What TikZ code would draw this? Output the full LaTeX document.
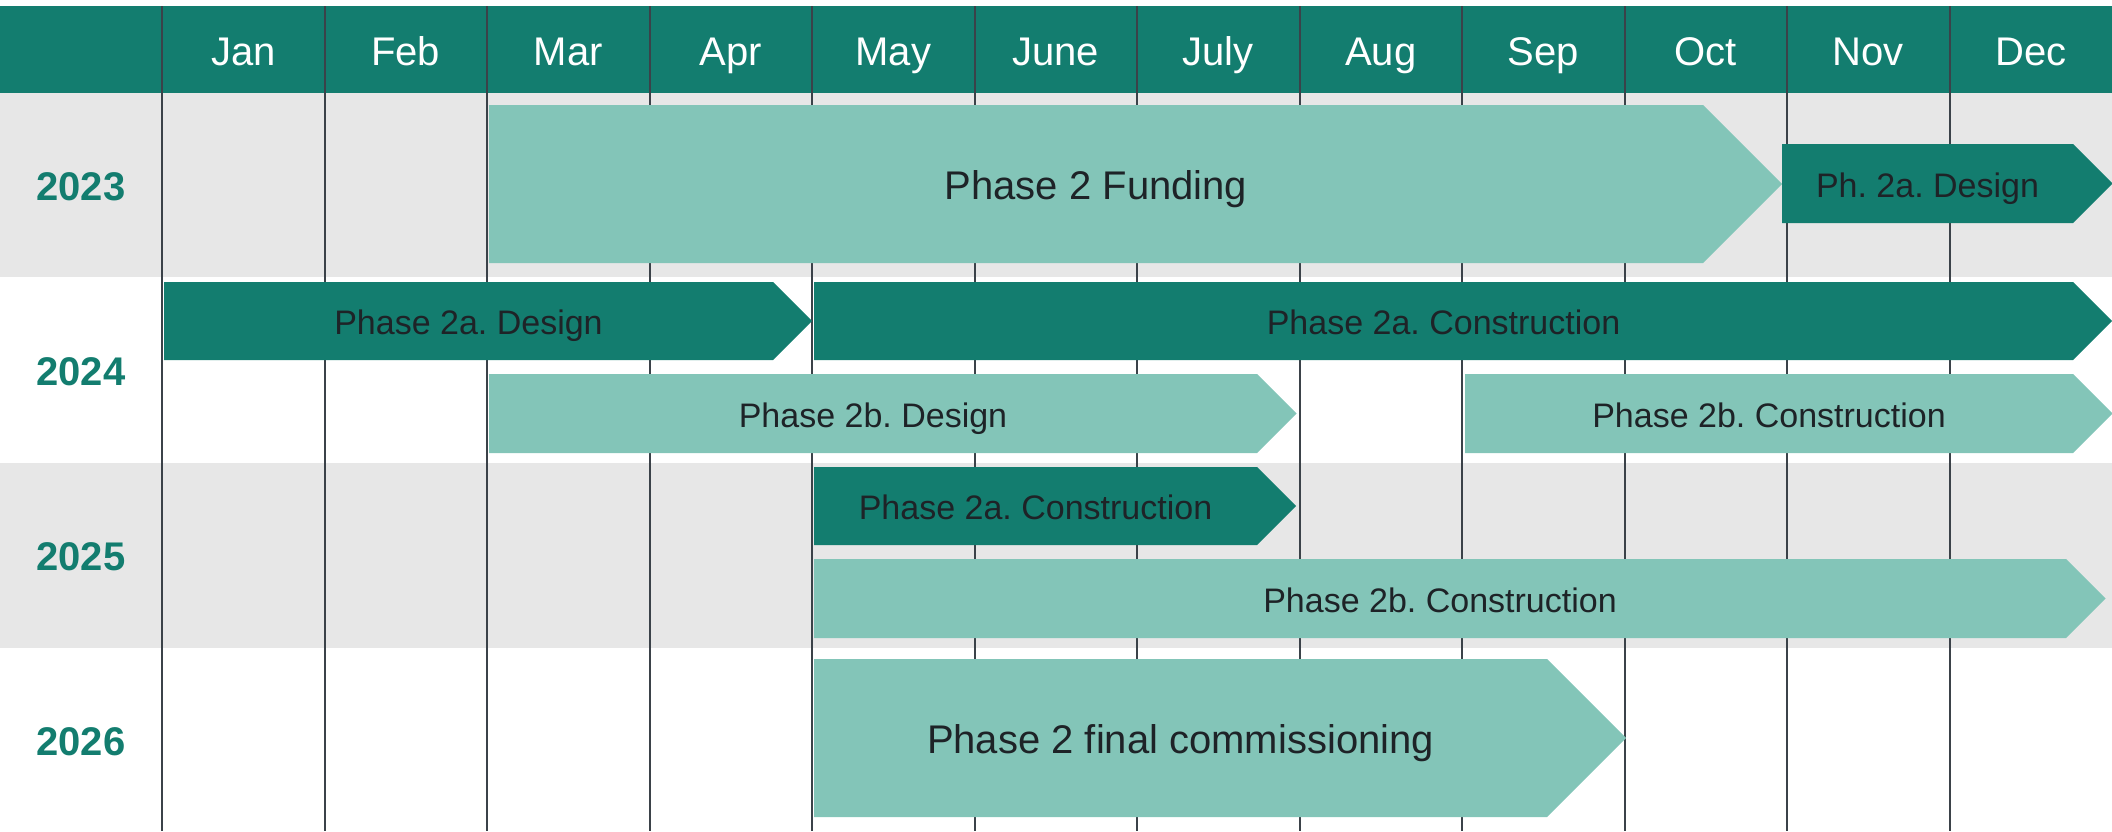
\documentclass[tikz,border=0pt]{standalone}
\usepackage{fontspec}
\setmainfont{Liberation Sans}
\usepackage{tikz}
\frenchspacing

\definecolor{planteal}{HTML}{137D6F}
\definecolor{planmint}{HTML}{83C5B8}
\definecolor{bandgray}{HTML}{E7E7E7}
\definecolor{gridgray}{HTML}{3B4249}
\definecolor{inkdark}{HTML}{1E2327}

\begin{document}
\begin{tikzpicture}[
    x=1pt, y=-1pt,
    gridline/.style={draw=gridgray, line width=2pt},
    month/.style={font=\fontsize{40}{48}\selectfont, text=white, inner sep=0pt, text height=28.6pt, text depth=0pt},
    year/.style={font=\fontsize{40}{48}\selectfont\bfseries, text=planteal, inner sep=0pt, text height=28.6pt, text depth=0pt},
    darkbar/.style={fill=planteal},
    lightbar/.style={fill=planmint},
    barlabel/.style={font=\fontsize{34}{40}\selectfont, text=inkdark, inner sep=0pt, text height=24.3pt, text depth=0pt},
    biglabel/.style={barlabel, font=\fontsize{40}{48}\selectfont, text height=28.6pt},
]
\useasboundingbox (0,0) rectangle (2112,831);

% Header and year bands
\fill[planteal] (0,6) rectangle (2112,92.6);
\fill[bandgray] (0,92.6) rectangle (2112,277);
\fill[bandgray] (0,462.7) rectangle (2112,647.7);

% Month columns
\foreach \m [count=\i from 0] in {Jan, Feb, Mar, Apr, May, June, July, Aug, Sep, Oct, Nov, Dec} {
    \draw[gridline] (162+162.5*\i, 6) -- (162+162.5*\i, 831);
    \node[month] (m\i) at (243.25+162.5*\i, 51) {\m};
}

% Years
\node[year] (y2023) at (81, 186.5) {2023};
\node[year] (y2024) at (81, 371.5) {2024};
\node[year] (y2025) at (81, 556.5) {2025};
\node[year] (y2026) at (81, 741.5) {2026};

% Phase bars
\foreach \xa/\xb/\ya/\yb/\kind/\lbl/\id/\txt in {
    489/1703/105/263/lightbar/biglabel/funding/Phase 2 Funding,
    1782/2073/144/223/darkbar/barlabel/designA23/Ph. 2a. Design,
    164/773/282/360/darkbar/barlabel/designA24/Phase 2a. Design,
    814/2073/282/360/darkbar/barlabel/buildA24/Phase 2a. Construction,
    489/1257/374/453/lightbar/barlabel/designB24/Phase 2b. Design,
    1465/2073/374/453/lightbar/barlabel/buildB24/Phase 2b. Construction,
    814/1257/467/545/darkbar/barlabel/buildA25/Phase 2a. Construction,
    814/2066/559/638/lightbar/barlabel/buildB25/Phase 2b. Construction,
    814/1547/659/817/lightbar/biglabel/commissioning/Phase 2 final commissioning} {
    \pgfmathsetmacro\tip{\xb+(\yb-\ya)/2}
    \pgfmathsetmacro\ym{(\ya+\yb)/2}
    \fill[\kind] (\xa,\ya) -- (\xb,\ya) -- (\tip,\ym) -- (\xb,\yb) -- (\xa,\yb) -- cycle;
    \node[\lbl] (\id) at ({(\xa+\xb)/2}, \ym+1.5) {\txt};
}

\end{tikzpicture}
\end{document}
